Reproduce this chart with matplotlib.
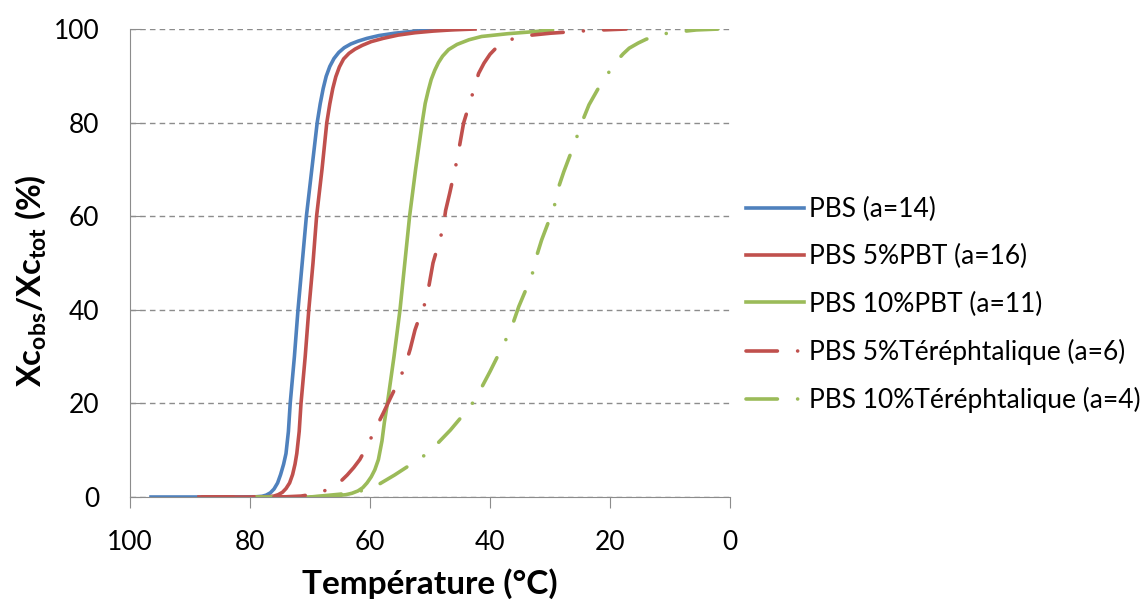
import matplotlib
matplotlib.use("Agg")
import matplotlib.pyplot as plt

plt.rcParams['font.family'] = ['Lato', 'DejaVu Sans']
plt.rcParams['mathtext.fontset'] = 'custom'
plt.rcParams['mathtext.rm'] = 'Lato'
plt.rcParams['mathtext.bf'] = 'Lato:bold'

# data (temperature in degC, crystallinity in %)
t_pbs = [96.5, 85, 79, 78, 77.3, 76.6, 76.0, 75.4, 74.9, 74.4, 74.0, 73.6, 73.3, 72.6, 72.0,
         71.3, 70.6, 69.7, 68.8, 68.3, 67.8, 67.3, 66.7, 66.0, 65.2, 64.3, 63.2, 62.0, 60.5,
         58.5, 55.9, 52.0, 48.0, 45.0]
y_pbs = [0, 0, 0.05, 0.15, 0.4, 0.9, 1.7, 3.0, 4.8, 7.0, 9.3, 14, 20, 30, 40,
         50, 60, 70, 80, 84, 87.3, 89.9, 92.0, 93.7, 95.0, 96.0, 96.8, 97.4, 98.0,
         98.6, 99.1, 99.6, 99.85, 100]

t_pbt5 = [88.5, 80, 77, 76.0, 75.3, 74.6, 74.0, 73.4, 72.9, 72.5, 72.2, 71.8, 71.5, 70.8,
          70.2, 69.5, 68.9, 68.0, 67.2, 66.7, 66.2, 65.7, 65.1, 64.4, 63.5, 62.5, 61.3, 59.8,
          57.8, 55.3, 52.5, 49.5, 46.5, 42.5]
y_pbt5 = [0, 0, 0.05, 0.2, 0.5, 1.0, 1.8, 3.0, 4.8, 7.0, 9.3, 14, 20, 30,
          40, 50, 60, 70, 80, 84, 87.3, 89.8, 91.9, 93.6, 94.8, 95.7, 96.5, 97.3,
          98.0, 98.7, 99.2, 99.55, 99.8, 100]

t_pbt10 = [78.8, 70, 66, 64, 63, 62, 61.2, 60.5, 59.8, 59.2, 58.6, 58.0, 57.6, 57.1, 56.0,
           55.0, 54.2, 53.4, 52.4, 51.3, 50.8, 50.3, 49.8, 49.2, 48.6, 47.9, 46.9, 45.5, 43.5,
           41.4, 37.0, 33.0, 29.6]
y_pbt10 = [0, 0, 0.2, 0.5, 0.8, 1.3, 2.0, 3.0, 4.3, 5.8, 8.0, 12.0, 16.0, 20, 30,
           40, 50, 60, 70, 80, 84.1, 86.8, 89.2, 91.2, 92.8, 94.2, 95.6, 96.7, 97.7,
           98.4, 99.0, 99.4, 99.8]

t_ter5 = [88, 80, 74, 71.5, 69.5, 67.8, 66.3, 65.0, 63.8, 62.7, 61.7, 60.5, 59.2, 57.8, 56.5,
          55.3, 54.2, 53.3, 52.5, 51.6, 50.6, 50.0, 49.5, 48.6, 47.8, 47.4, 46.7, 45.5, 44.4,
          43.5, 42.7, 41.9, 41.0, 40.0, 38.8, 37.5, 36.0, 33.0, 29.9, 24.3, 21.2, 17.3]
y_ter5 = [0, 0, 0.05, 0.2, 0.6, 1.2, 2.1, 3.2, 4.7, 6.3, 8.0, 10.8, 14.3, 17.9, 21.4,
          24.6, 27.8, 31.6, 35.7, 39.0, 42.1, 46.4, 50.0, 54.0, 57.5, 61.2, 65.0, 72.0, 79.9,
          83.7, 87.0, 90.5, 92.7, 94.6, 96.2, 97.2, 98.0, 98.7, 99.1, 99.6, 99.8, 100]

t_ter10 = [70, 65, 61.5, 58.4, 55.9, 53.5, 50.8, 48.7, 46.6, 44.5, 42.7, 41.4, 40.0, 37.4,
           36.2, 35.2, 33.0, 32.3, 31.4, 29.3, 28.7, 27.7, 25.7, 24.7, 23.5, 22.0, 20.7, 19.0,
           17.8, 16.8, 15.3, 14.0, 11.5, 8.5, 5.6, 1.7]
y_ter10 = [0, 0.6, 1.3, 2.8, 4.7, 6.7, 9.0, 11.5, 14.3, 17.5, 20.4, 23.4, 26.8, 33.5,
           37.0, 40.7, 47.4, 51.2, 54.9, 62.0, 65.7, 69.5, 76.3, 80.0, 83.8, 87.2, 89.8, 93.0,
           94.7, 95.9, 97.0, 97.8, 98.9, 99.4, 99.8, 100]

labels = ['PBS (a=14)', 'PBS 5%PBT (a=16)', 'PBS 10%PBT (a=11)',
          'PBS 5%Téréphtalique (a=6)', 'PBS 10%Téréphtalique (a=4)']

blue = '#4F81BD'
red = '#C0504D'
green = '#9BBB59'
dashdot = (0, (8.7, 5.6, 0.01, 5.6))

fig = plt.figure(figsize=(11.46, 6.02), dpi=100)
ax = fig.add_axes([130 / 1146, 105 / 602, 600 / 1146, 468 / 602])

lw = 2.6
ax.plot(t_pbs, y_pbs, color=blue, lw=lw, label=labels[0])
ax.plot(t_pbt5, y_pbt5, color=red, lw=lw, label=labels[1])
ax.plot(t_pbt10, y_pbt10, color=green, lw=lw, label=labels[2])
ax.plot(t_ter5, y_ter5, color=red, lw=lw, ls=dashdot, dash_capstyle='round', label=labels[3])
ax.plot(t_ter10, y_ter10, color=green, lw=lw, ls=dashdot, dash_capstyle='round', label=labels[4])

ax.set_xlim(100, 0)
ax.set_ylim(0, 100)
ax.set_xticks(range(100, -1, -20))
ax.set_yticks(range(0, 101, 20))
ax.yaxis.grid(True, color='#8c8c8c', ls=(0, (4, 3)), lw=1)
ax.set_axisbelow(True)
for s in ['top', 'right']:
    ax.spines[s].set_visible(False)
for s in ['left', 'bottom']:
    ax.spines[s].set_color('#8c8c8c')
ax.tick_params(axis='x', direction='out', length=8, color='#8c8c8c', labelsize=19, pad=16)
ax.tick_params(axis='y', direction='in', length=8, color='#8c8c8c', labelsize=19, pad=22)

ax.set_xlabel('Température (°C)', fontsize=24, fontweight='bold')
ax.xaxis.set_label_coords(0.5, -0.152)
ax.set_ylabel(r'Xc$_{\mathbf{obs}}$/Xc$_{\mathbf{tot}}$ (%)', fontsize=23.5, fontweight='bold')
ax.yaxis.set_label_coords(-0.135, 0.462)

fig.legend(loc='upper left', bbox_to_anchor=(746 / 1146, 1 - 197 / 602), frameon=False,
           fontsize=19, handlelength=2.2, handletextpad=0.2, labelspacing=0.84,
           borderpad=0, borderaxespad=0)

fig.savefig('out.png', dpi=100)
